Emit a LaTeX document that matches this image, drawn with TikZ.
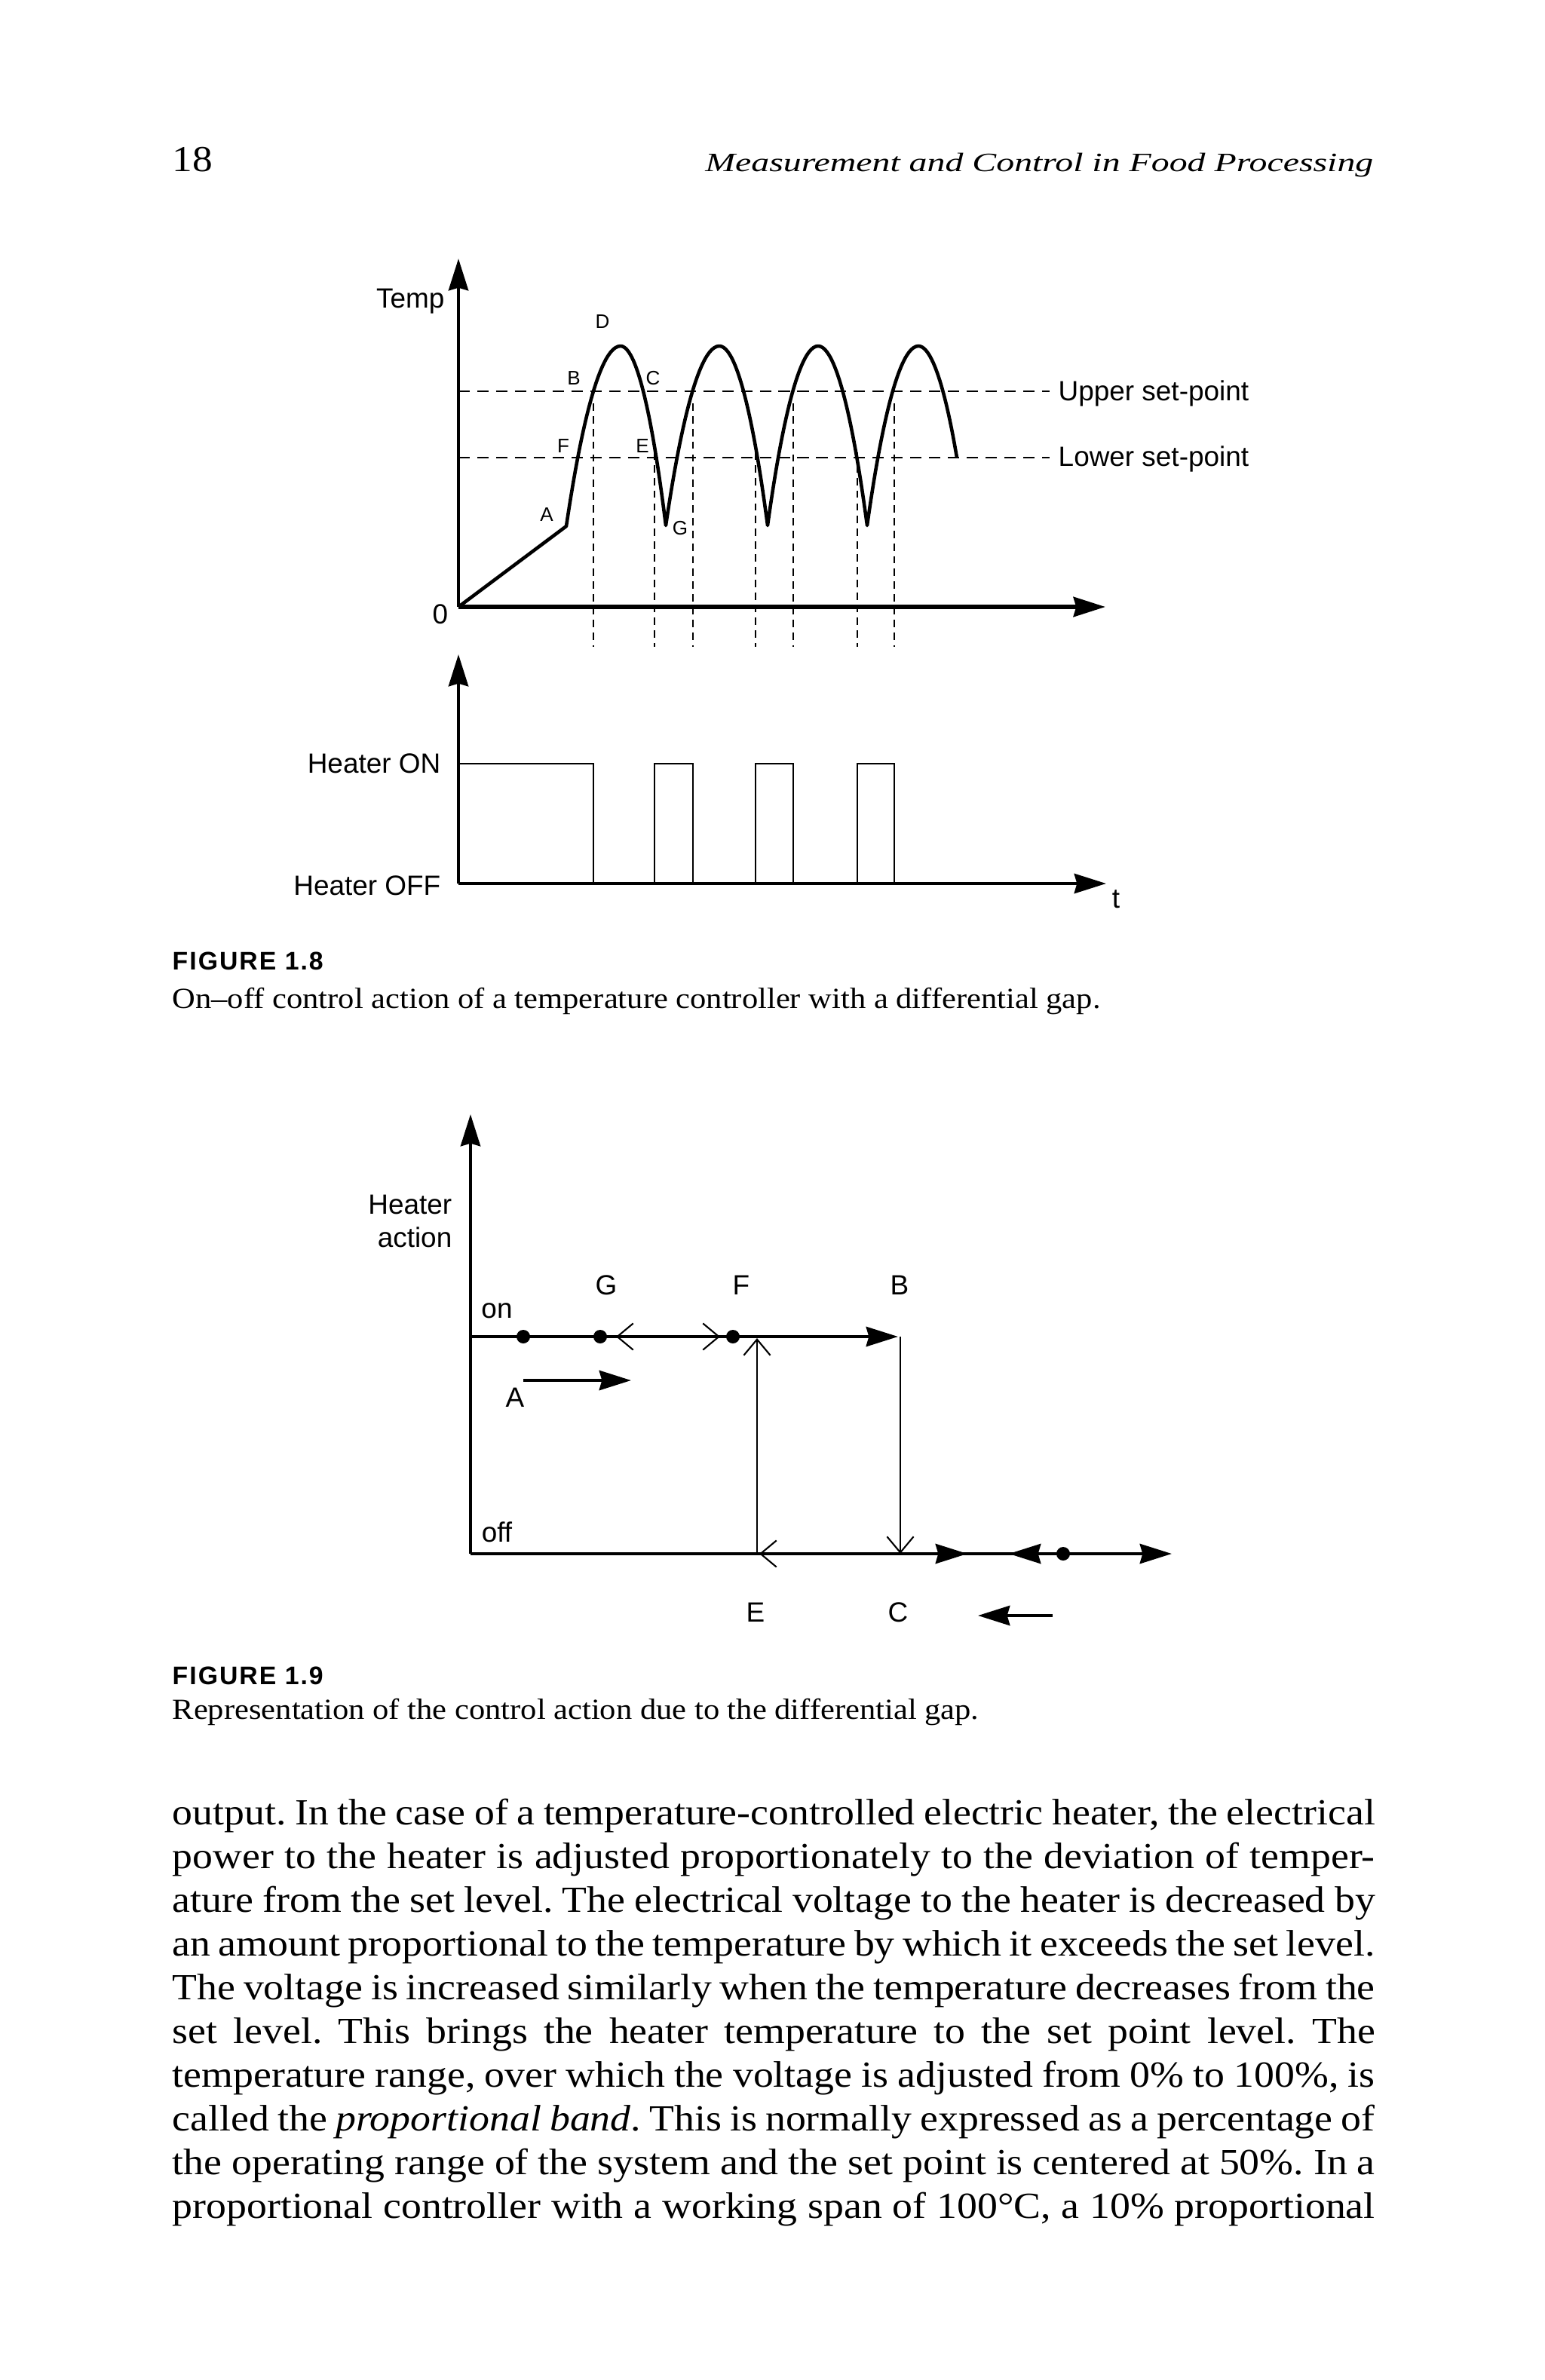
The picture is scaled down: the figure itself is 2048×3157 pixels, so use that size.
\documentclass[tikz,border=0pt]{standalone}
\usepackage{fontspec}
\setmainfont{Liberation Serif}[FakeStretch=1.1]
\newfontfamily\headfont{Liberation Serif}[FakeStretch=1.36]
\newfontfamily\figsans{Liberation Sans}
\newfontfamily\capsans[LetterSpace=6]{Liberation Sans}
\usetikzlibrary{arrows.meta}
\tikzset{
 axtip/.tip={Stealth[length=12pt,width=7.4pt,inset=1pt]},
 opentip/.tip={Straight Barb[length=6pt,width=10pt]},
}

\begin{document}
\begin{tikzpicture}[x=0.01cm, y=-0.01cm,
 lbl/.style={font=\figsans\fontsize{10.5}{12.6}\selectfont, inner sep=0pt},
 pt/.style={font=\figsans\fontsize{7.4}{9}\selectfont, inner sep=0pt},
 axis/.style={line width=1.3pt, -axtip},
 thickaxis/.style={line width=1.7pt, -axtip},
 curve/.style={line width=1.3pt, line join=round},
 setline/.style={line width=0.8pt, dash pattern=on 4.3pt off 2.8pt},
 drop/.style={line width=0.6pt, dash pattern=on 2.8pt off 2pt},
 pulse/.style={line width=0.7pt},
 state/.style={line width=1.3pt},
 jump/.style={line width=0.6pt, -opentip},
 dot/.style={circle, fill, inner sep=0pt, minimum size=0.18cm},
 head/.style={font=\fontsize{13.8}{16}\selectfont, inner sep=0pt},
 figno/.style={font=\capsans\bfseries\fontsize{9.6}{11}\selectfont, inner sep=0pt},
 captxt/.style={font=\fontsize{11}{13}\selectfont, inner sep=0pt},
 body/.style={font=\fontsize{13.9}{16.5}\selectfont, text width=15.94cm, align=justify, inner sep=0pt},
]
\fill[white] (0,0) rectangle (2048,3157);
\useasboundingbox (0,0) rectangle (2048,3157);

\node[head, anchor=base west] (pagenum) at (228,227) {18};
\node[head, anchor=base east, font=\headfont\itshape] (runhead) at (1822,227) {Measurement and Control in Food Processing};

% Figure 1.8, temperature
\coordinate (O) at (608,805);
\coordinate (Ytop) at (608,343);
\coordinate (Xend) at (1466,805);
\coordinate (A) at (751,698);
\coordinate (P1) at (823,459);
\coordinate (T1) at (883,697);
\coordinate (P2) at (954,459);
\coordinate (T2) at (1018,697);
\coordinate (P3) at (1085,459);
\coordinate (T3) at (1150,697);
\coordinate (P4) at (1218,459);
\coordinate (Z) at (1269,607);
\coordinate (U0) at (608,519);
\coordinate (U1) at (1392,519);
\coordinate (L0) at (608,607);
\coordinate (L1) at (1392,607);

\draw[axis] (O) -- (Ytop);
\draw[thickaxis] (O) -- (Xend);
\draw[setline] (U0) -- (U1);
\draw[setline] (L0) -- (L1);
\draw[curve] (O) -- (A) parabola bend (P1) (T1) parabola bend (P2) (T2)
 parabola bend (P3) (T3) parabola bend (P4) (Z);
\foreach \x in {787,919,1052,1186} \draw[drop] (\x,535) -- (\x,858);
\foreach \x in {868,1002,1137} \draw[drop] (\x,600) -- (\x,858);

\node[lbl, anchor=east] (temp) at (590,400) {Temp};
\node[lbl] (zero) at (584,815) {0};
\node[lbl, anchor=base west] (upper) at (1403,531) {Upper set-point};
\node[lbl, anchor=base west] (lower) at (1403,618) {Lower set-point};
\node[pt] (lD) at (799,427) {D};
\node[pt] (lB) at (761,502) {B};
\node[pt] (lC) at (866,502) {C};
\node[pt] (lF) at (747,592) {F};
\node[pt] (lE) at (852,592) {E};
\node[pt] (lA) at (725,683) {A};
\node[pt] (lG) at (902,701) {G};

% Figure 1.8, heater
\coordinate (HO) at (608,1172);
\coordinate (HY) at (608,868);
\coordinate (HX) at (1467,1172);
\draw[axis] (HO) -- (HY);
\draw[axis] (HO) -- (HX);
\draw[pulse] (608,1013) -- (787,1013) -- (787,1172);
\foreach \a/\b in {868/919,1002/1052,1137/1186}
 \draw[pulse] (\a,1172) |- (\b,1013) -- (\b,1172);
\node[lbl, anchor=east] (hon) at (585,1013) {Heater ON};
\node[lbl, anchor=east] (hoff) at (585,1175) {Heater OFF};
\node[lbl] (tt) at (1480,1193) {t};

\node[figno, anchor=base west] (fig8) at (228,1286) {FIGURE 1.8};
\node[captxt, anchor=base west] (cap8) at (228,1337) {On–off control action of a temperature controller with a differential gap.};

% Figure 1.9
\coordinate (O9) at (624,2061);
\coordinate (Y9) at (624,1478);
\coordinate (X9) at (1554,2061);
\coordinate (on0) at (624,1773);
\coordinate (Btip) at (1191,1773);
\coordinate (Bon) at (1194,1773);
\coordinate (Boff) at (1194,2061);
\coordinate (Eon) at (1004,1775);
\coordinate (Eoff) at (1004,2061);
\draw[axis] (O9) -- (Y9);
\draw[axis] (O9) -- (X9);
\draw[state, -axtip] (on0) -- (Btip);
\draw[jump] (Eoff) -- (Eon);
\draw[jump] (Bon) -- (Boff);
\node[dot] (d1) at (694,1773) {};
\node[dot] (dG) at (796,1773) {};
\node[dot] (dF) at (972,1773) {};
\node[dot] (dR) at (1410,2061) {};
\draw[jump] (845,1773) -- (817,1773);
\draw[jump] (927,1773) -- (955,1773);
\draw[jump] (1035,2061) -- (1007,2061);
\draw[state, -axtip] (1235,2061) -- (1283,2061);
\draw[state, -axtip] (1390,2061) -- (1338,2061);
\coordinate (a0) at (694,1831);
\coordinate (a1) at (837,1831);
\draw[state, -axtip] (a0) -- (a1);
\coordinate (c0) at (1396,2143);
\coordinate (c1) at (1297,2143);
\draw[state, -axtip] (c0) -- (c1);

\node[lbl, anchor=east, align=right] (hact) at (600,1620) {Heater\\action};
\node[lbl] (lon) at (659,1739) {on};
\node[lbl] (loff) at (659,2032) {off};
\node[lbl] (gG) at (804,1705) {G};
\node[lbl] (gF) at (983,1705) {F};
\node[lbl] (gB) at (1193,1705) {B};
\node[lbl] (gA) at (683,1854) {A};
\node[lbl] (gE) at (1002,2139) {E};
\node[lbl] (gC) at (1191,2139) {C};

\node[figno, anchor=base west] (fig9) at (228,2234) {FIGURE 1.9};
\node[captxt, anchor=base west] (cap9) at (228,2280) {Representation of the control action due to the differential gap.};

\node[body, anchor=base west] (para) at (228,2420) {\frenchspacing\tolerance=9999
output. In the case of a temperature-controlled electric heater, the electrical\linebreak
power to the heater is adjusted proportionately to the deviation of temper-\linebreak
ature from the set level. The electrical voltage to the heater is decreased by\linebreak
an amount proportional to the temperature by which it exceeds the set level.\linebreak
The voltage is increased similarly when the temperature decreases from the\linebreak
set level. This brings the heater temperature to the set point level. The\linebreak
temperature range, over which the voltage is adjusted from 0\% to 100\%, is\linebreak
called the \emph{proportional band}. This is normally expressed as a percentage of\linebreak
the operating range of the system and the set point is centered at 50\%. In a\linebreak
proportional controller with a working span of 100°C, a 10\% proportional\parfillskip=0pt\par};
\end{tikzpicture}
\end{document}
